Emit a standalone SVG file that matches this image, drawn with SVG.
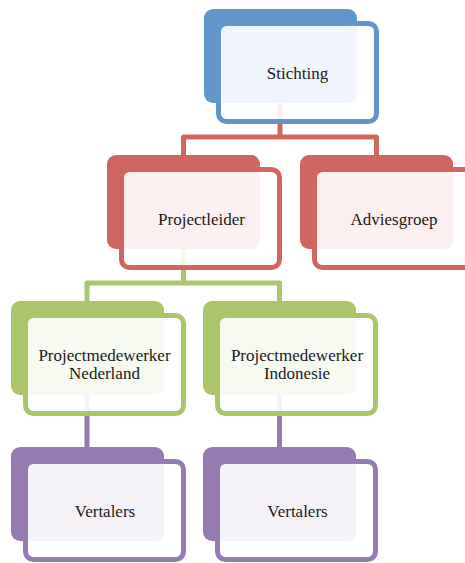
<svg xmlns="http://www.w3.org/2000/svg" width="465" height="563" viewBox="0 0 465 563">
  <style>
    .back { stroke: none; }
    .front { fill: #ffffff; fill-opacity: 0.9; stroke-width: 5; }
    .lbl { font-family: "Liberation Serif", "Times New Roman", serif; font-size: 17px; fill: #1a1a1a; text-anchor: middle; }
    .conn { fill: none; stroke-width: 5; stroke-linejoin: round; }
    .blue .back { fill: #6096ca; } .blue .front { stroke: #6096ca; }
    .red .back { fill: #cf6660; } .red .front { stroke: #cf6660; }
    .green .back { fill: #abc56d; } .green .front { stroke: #abc56d; }
    .purple .back { fill: #957bb2; } .purple .front { stroke: #957bb2; }
  </style>

  <!-- connectors (drawn under the boxes) -->
  <g id="connectors">
    <path class="conn" stroke="#cf6660" d="M280,103 V137 M183.5,155 V137 H376.5 V155"/>
    <path class="conn" stroke="#abc56d" d="M183.5,249 V283 M87,301 V283 H279.5 V301"/>
    <path class="conn" stroke="#957bb2" d="M87,395 V447 M279.5,395 V447"/>
  </g>

  <g id="stichting" class="blue">
    <rect class="back" x="204" y="9" width="153" height="94" rx="9"/>
    <rect class="front" x="218.5" y="23.5" width="158" height="98" rx="8"/>
    <text class="lbl" x="297.5" y="79">Stichting</text>
  </g>

  <g id="projectleider" class="red">
    <rect class="back" x="107" y="155" width="153" height="94" rx="9"/>
    <rect class="front" x="121.5" y="169.5" width="158" height="98" rx="8"/>
    <text class="lbl" x="201.5" y="225">Projectleider</text>
  </g>

  <g id="adviesgroep" class="red">
    <rect class="back" x="300" y="155" width="153" height="94" rx="9"/>
    <rect class="front" x="314.5" y="169.5" width="158" height="98" rx="8"/>
    <text class="lbl" x="394" y="225">Adviesgroep</text>
  </g>

  <g id="pm-nederland" class="green">
    <rect class="back" x="11" y="301" width="153" height="94" rx="9"/>
    <rect class="front" x="25.5" y="315.5" width="158" height="98" rx="8"/>
    <text class="lbl" x="104.5" y="361">Projectmedewerker</text>
    <text class="lbl" x="104.5" y="378.5">Nederland</text>
  </g>

  <g id="pm-indonesie" class="green">
    <rect class="back" x="203" y="301" width="153" height="94" rx="9"/>
    <rect class="front" x="217.5" y="315.5" width="158" height="98" rx="8"/>
    <text class="lbl" x="297" y="361">Projectmedewerker</text>
    <text class="lbl" x="297" y="378.5">Indonesie</text>
  </g>

  <g id="vertalers-nl" class="purple">
    <rect class="back" x="11" y="447" width="153" height="94" rx="9"/>
    <rect class="front" x="25.5" y="461.5" width="158" height="98" rx="8"/>
    <text class="lbl" x="105" y="517">Vertalers</text>
  </g>

  <g id="vertalers-id" class="purple">
    <rect class="back" x="203" y="447" width="153" height="94" rx="9"/>
    <rect class="front" x="217.5" y="461.5" width="158" height="98" rx="8"/>
    <text class="lbl" x="297.5" y="517">Vertalers</text>
  </g>
</svg>
